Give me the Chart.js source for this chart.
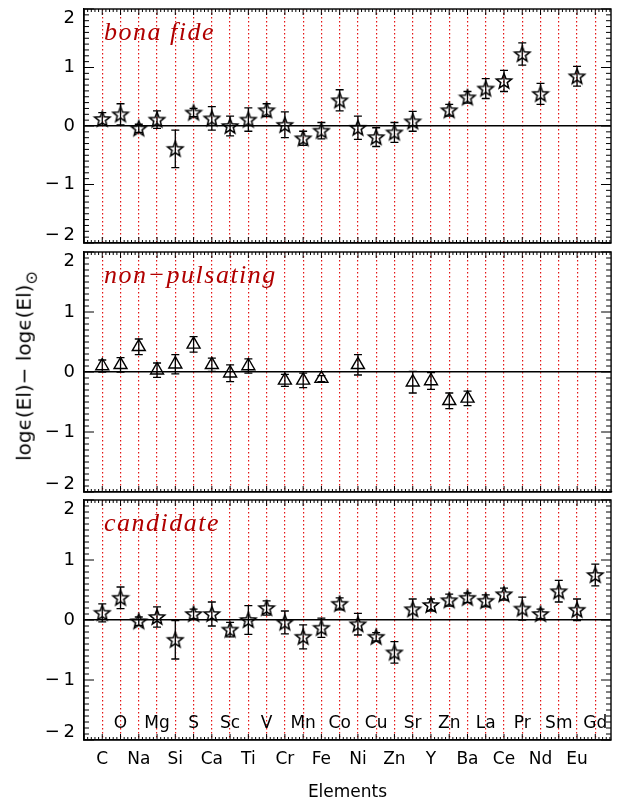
<!DOCTYPE html>
<html><head><meta charset="utf-8">
<script src="https://cdn.jsdelivr.net/npm/chart.js@4.4.1/dist/chart.umd.min.js"></script>
<style>
html,body{margin:0;padding:0;background:#fff;}
#wrap{position:relative;width:620px;height:806px;overflow:hidden;background:#fff;}
canvas{position:absolute;left:0;top:0;}
#ytitle{position:absolute;left:26px;top:366px;transform:translate(-50%,-50%) rotate(-90deg);font:20px "DejaVu Sans";white-space:nowrap;color:#000;}
#ytitle sub{font-size:80%;vertical-align:-0.35em;}
</style></head><body>
<div id="wrap">
<canvas id="c1" width="620" height="806"></canvas>
<canvas id="c2" width="620" height="806"></canvas>
<canvas id="c3" width="620" height="806"></canvas>
<div id="ytitle">log&#x3F5;(El)&#x2212; log&#x3F5;(El)<sub>&#x2299;</sub></div>
</div>
<script>
// ---------------- data ----------------
const elements = ['C','O','Na','Mg','Si','S','Ca','Sc','Ti','V','Cr','Mn','Fe','Co','Ni','Cu','Zn','Sr','Y','Zn','Ba','La','Ce','Pr','Nd','Sm','Eu','Gd'];

const bonaFideValues = [0.12,0.20,-0.04,0.11,-0.39,0.23,0.13,0.00,0.11,0.27,0.02,-0.21,-0.08,0.44,-0.03,-0.19,-0.11,0.08,null,0.27,0.49,0.64,0.77,1.23,0.55,null,0.85,null];
const bonaFideErrors = [0.11,0.18,0.07,0.15,0.32,0.07,0.20,0.17,0.20,0.11,0.22,0.12,0.14,0.18,0.20,0.16,0.17,0.17,null,0.10,0.10,0.17,0.18,0.19,0.18,null,0.17,null];

const nonPulsValues = [0.10,0.12,0.42,0.03,0.13,0.46,0.12,-0.02,0.10,null,-0.14,-0.14,-0.11,null,0.12,null,null,-0.17,-0.15,-0.48,-0.44,null,null,null,null,null,null,null];
const nonPulsErrors = [0.10,0.12,0.13,0.12,0.16,0.13,0.11,0.14,0.12,null,0.10,0.12,0.05,null,0.17,null,null,0.18,0.14,0.13,0.12,null,null,null,null,null,null,null];

const candidateValues = [0.12,0.37,-0.02,0.05,-0.33,0.10,0.10,-0.16,0.00,0.20,-0.04,-0.28,-0.13,0.27,-0.07,-0.28,-0.54,0.18,0.25,0.33,0.37,0.32,0.43,0.19,0.10,0.48,0.17,0.75];
const candidateErrors = [0.15,0.18,0.07,0.17,0.32,0.08,0.20,0.12,0.24,0.12,0.19,0.20,0.16,0.10,0.18,0.07,0.18,0.17,0.10,0.10,0.08,0.10,0.10,0.19,0.08,0.18,0.18,0.18];

const yTickValues = [-2,-1,0,1,2];
const panelLabels = ['bona fide','non\u2212pulsating','candidate'];
const xAxisTitle = 'Elements';

// ---------------- styling ----------------
const XMAX = 28.86;
const RED_GRID = 'rgb(228,20,20)';
const RED_TEXT = '#b00000';
const TICK_FONT = {family:'DejaVu Sans', size:17};

function makeStar(){
  const c = document.createElement('canvas'); c.width = 20; c.height = 20;
  const g = c.getContext('2d');
  const R = 8.0, r = 3.4, cx = 10, cy = 10.5;
  g.beginPath();
  for (let k=0;k<10;k++){
    const a = -Math.PI/2 + k*Math.PI/5, rr = (k%2) ? r : R;
    const px = cx + rr*Math.cos(a), py = cy + rr*Math.sin(a);
    if (k) g.lineTo(px,py); else g.moveTo(px,py);
  }
  g.closePath(); g.strokeStyle = '#000'; g.lineWidth = 1.5; g.lineJoin = 'miter'; g.stroke();
  return c;
}
const STAR = makeStar();

// ---------------- plugins ----------------
const framePlugin = {
  id:'frame',
  afterDraw(chart){
    const {ctx, chartArea:a, scales:{x, y}} = chart;
    ctx.save();
    ctx.setLineDash([]);
    ctx.strokeStyle = '#000'; ctx.lineWidth = 1.4;
    ctx.strokeRect(a.left, a.top, a.right - a.left, a.bottom - a.top);
    ctx.lineWidth = 1;
    ctx.beginPath();
    for (let k=-20;k<=20;k++){
      const py = y.getPixelForValue(k/10), len = (k%10===0) ? 10 : 5;
      ctx.moveTo(a.left, py); ctx.lineTo(a.left+len, py);
      ctx.moveTo(a.right, py); ctx.lineTo(a.right-len, py);
    }
    for (let k=0;k<=Math.floor(XMAX*5);k++){
      const px = x.getPixelForValue(k/5), len = (k%5===0) ? 6 : 3;
      ctx.moveTo(px, a.bottom); ctx.lineTo(px, a.bottom-len);
      ctx.moveTo(px, a.top); ctx.lineTo(px, a.top+len);
    }
    ctx.stroke();
    ctx.restore();
  }
};

const errPlugin = {
  id:'errbars',
  afterDatasetsDraw(chart){
    const {ctx, scales:{x, y}} = chart;
    ctx.save(); ctx.setLineDash([]); ctx.strokeStyle = '#000'; ctx.lineWidth = 1.3;
    chart.data.datasets.forEach(ds => ds.data.forEach(p => {
      if (p.e == null) return;
      const px = x.getPixelForValue(p.x);
      const y1 = y.getPixelForValue(p.y + p.e), y2 = y.getPixelForValue(p.y - p.e);
      ctx.beginPath();
      ctx.moveTo(px, y1); ctx.lineTo(px, y2);
      ctx.moveTo(px-4, y1); ctx.lineTo(px+4, y1);
      ctx.moveTo(px-4, y2); ctx.lineTo(px+4, y2);
      ctx.stroke();
    }));
    ctx.restore();
  }
};

const labelPlugin = {
  id:'panelLabel',
  afterDraw(chart, args, opts){
    const {ctx, chartArea:a} = chart;
    ctx.save();
    ctx.font = 'italic 26px "Liberation Serif"';
    if ('letterSpacing' in ctx) ctx.letterSpacing = '1.5px';
    ctx.fillStyle = RED_TEXT; ctx.textBaseline = 'alphabetic'; ctx.textAlign = 'left';
    ctx.fillText(opts.text, a.left + 20, a.top + 31);
    ctx.restore();
  }
};

const yShiftPlugin = {
  id:'yShift',
  beforeDraw(chart){
    const s = chart.scales.y;
    const items = s.getLabelItems();
    if (items._shifted) return;
    items._shifted = true;
    items.forEach(it => {
      if (it.label === '2') it.options.translation[1] += 9;
      if (it.label === '\u2212\u20092') it.options.translation[1] -= 8;
    });
  }
};

// ---------------- charts ----------------
function buildPanel(id, values, errors, style, top, bottom, label, isBottom){
  const data = [];
  values.forEach((v,i) => { if (v !== null) data.push({x:i+1, y:v, e:errors[i]}); });
  const scales = {
    x: {
      type:'linear', min:0, max:XMAX, position:'bottom',
      ticks:{stepSize:1, includeBounds:false, autoSkip:false, maxRotation:0, minRotation:0,
        display:isBottom, padding:9, font:TICK_FONT, color:'#000',
        callback:(v) => (Number.isInteger(v) && v>=1 && v%2===1) ? elements[v-1] : ''},
      grid:{display:true, drawTicks:false, lineWidth:1.2,
        color:(c) => (c.tick && c.tick.value>=1) ? RED_GRID : 'rgba(0,0,0,0)'},
      border:{display:true, color:'#000', width:1.3, dash:[1.5,2.5]},
      title:{display:isBottom, text:xAxisTitle, font:TICK_FONT, color:'#000', padding:{top:0, bottom:3}},
      afterFit:(s) => { s.height = isBottom ? 66 : 0; s.paddingLeft = 0; s.paddingRight = 0; }
    },
    y: {
      type:'linear', min:-2, max:2, position:'left',
      afterBuildTicks:(s) => { s.ticks = yTickValues.map(v => ({value:v})); },
      ticks:{padding:9, font:{family:'DejaVu Sans', size:18}, color:'#000',
        callback:(v) => v < 0 ? '\u2212\u2009' + Math.abs(v) : String(v)},
      grid:{drawTicks:false, lineWidth:1.5,
        color:(c) => (c.tick && c.tick.value===0) ? '#000' : 'rgba(0,0,0,0)'},
      border:{display:true, color:'#000', width:1.3},
      afterFit:(s) => { s.width = 84; s.paddingTop = 0; s.paddingBottom = 0; }
    }
  };
  if (isBottom){
    scales.x2 = {
      type:'linear', axis:'x', position:{y:-1.55}, min:0, max:XMAX,
      ticks:{stepSize:1, includeBounds:false, autoSkip:false, maxRotation:0, minRotation:0,
        padding:0, font:TICK_FONT, color:'#000',
        callback:(v) => (Number.isInteger(v) && v>=2 && v%2===0) ? elements[v-1] : ''},
      grid:{display:false, drawTicks:false},
      border:{display:false},
      afterFit:(s) => { s.paddingLeft = 0; s.paddingRight = 0; }
    };
  }
  const ds = style === 'star'
    ? {data, pointStyle:STAR, pointRadius:8, showLine:false}
    : {data, pointStyle:'triangle', pointRadius:7.5, borderColor:'#000', borderWidth:1.4,
       backgroundColor:'rgba(0,0,0,0)', showLine:false};
  return new Chart(document.getElementById(id), {
    type:'scatter',
    data:{datasets:[ds]},
    options:{
      responsive:false, animation:false, events:[],
      layout:{padding:{top:top, bottom:isBottom ? 0 : 806-bottom, left:0, right:1}},
      plugins:{legend:{display:false}, tooltip:{enabled:false}, panelLabel:{text:label}},
      scales
    },
    plugins:[yShiftPlugin, errPlugin, framePlugin, labelPlugin]
  });
}

buildPanel('c1', bonaFideValues, bonaFideErrors, 'star', 3, 243, panelLabels[0], false);
buildPanel('c2', nonPulsValues, nonPulsErrors, 'tri', 252, 492, panelLabels[1], false);
buildPanel('c3', candidateValues, candidateErrors, 'star', 500, 740, panelLabels[2], true);
</script>
</body></html>
